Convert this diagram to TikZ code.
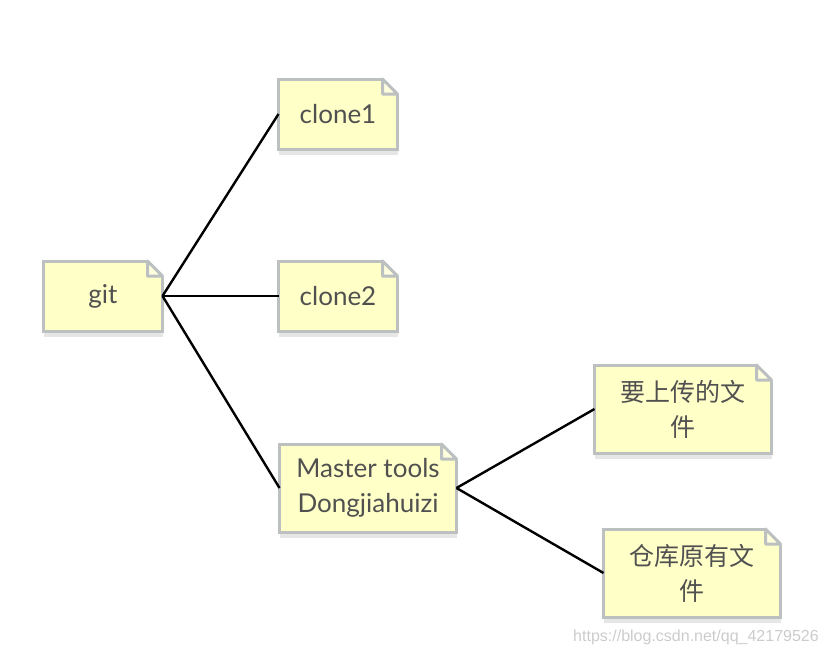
\documentclass[tikz,border=0pt]{standalone}
\usepackage{fontspec}
\setmainfont{Lato}
\newfontfamily\cjk{Noto Sans CJK SC}
\newfontfamily\urlfont{Liberation Sans}
\usetikzlibrary{calc}
\definecolor{noteyellow}{RGB}{255,255,200}
\definecolor{notefold}{RGB}{255,255,222}
\definecolor{notegray}{RGB}{188,192,192}
\definecolor{noteshadow}{RGB}{230,230,230}
\definecolor{notetext}{RGB}{80,80,80}
\tikzset{
  % Note box
  note/.style={draw=notegray, fill=noteyellow, line width=3pt, outer sep=0pt,
    inner sep=0pt, text=notetext, align=center,
    font=\fontsize{26}{35}\selectfont},
  % Small note
  snote/.style={note, minimum width=119pt, minimum height=70pt},
  % Wide note
  wnote/.style={note, minimum width=177pt, minimum height=88pt},
  % Wide note with Chinese text
  cnote/.style={wnote, font=\cjk\fontsize{25}{35}\selectfont},
  % Connector
  link/.style={line width=2.4pt, black},
}
\def\notefold{15}

\begin{document}
\begin{tikzpicture}[x=1pt, y=-1pt]
  \useasboundingbox[fill=white] (0,0) rectangle (828,656);

  \node[snote] (git) at (103,296) {git};
  \node[snote] (clone1) at (338,114) {clone1};
  \node[snote] (clone2) at (338,296) {clone2};
  \node[wnote] (master) at (368,488) {Master tools\\Dongjiahuizi};
  \node[cnote] (upload) at (683,409) {要上传的文\\件};
  \node[cnote] (repo) at (692,573) {仓库原有文\\件};

  % shadows and folded corners
  \foreach \n in {git,clone1,clone2,master,upload,repo}{
    \fill[noteshadow] ($(\n.south west)+(0,1.5)$) rectangle ($(\n.south east)+(0,6)$);
    \fill[white] ($(\n.north east)+(-\notefold-2,-2)$) -- ($(\n.north east)+(2,-2)$)
      -- ($(\n.north east)+(2,\notefold+2)$) -- cycle;
    \filldraw[fill=notefold, draw=notegray, line width=3pt, line join=round]
      ($(\n.north east)+(-\notefold,0)$) -- ($(\n.north east)+(0,\notefold)$)
      -- ($(\n.north east)+(-\notefold,\notefold)$) -- cycle;
  }

  \draw[link] (git.east) -- (clone1.west);
  \draw[link] (git.east) -- (clone2.west);
  \draw[link] (git.east) -- (master.west);
  \draw[link] (master.east) -- (upload.west);
  \draw[link] (master.east) -- (repo.west);

  \node[text=black!20, font=\urlfont\fontsize{16}{18}\selectfont] (url) at (696,637)
    {https://blog.csdn.net/qq\_42179526};
\end{tikzpicture}
\end{document}
